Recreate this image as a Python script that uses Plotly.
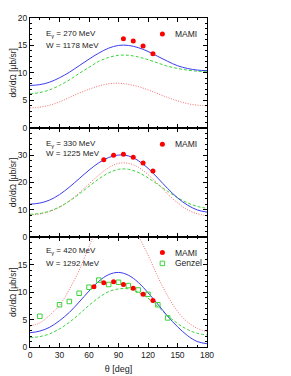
import plotly.graph_objects as go
from plotly.subplots import make_subplots

theta = [0, 10, 20, 30, 40, 50, 60, 70, 80, 90, 100, 110, 120, 130, 140, 150, 160, 170, 180]

# Panel 1: E_gamma = 270 MeV
blue_270 = [7.7, 7.85, 8.3, 9.1, 10.1, 11.3, 12.5, 13.6, 14.5, 15.0, 15.0, 14.6, 13.9, 13.0, 12.1, 11.3, 10.8, 10.5, 10.4]
green_270 = [6.2, 6.4, 6.9, 7.7, 8.7, 9.9, 11.0, 12.1, 12.8, 13.2, 13.2, 12.9, 12.4, 11.8, 11.2, 10.8, 10.5, 10.3, 10.2]
red_270 = [3.6, 3.75, 4.1, 4.7, 5.5, 6.3, 7.0, 7.6, 8.0, 8.1, 7.9, 7.5, 6.9, 6.2, 5.5, 4.9, 4.4, 4.1, 4.0]
mami_270_x = [95, 105, 115, 125]
mami_270_y = [16.2, 15.8, 14.9, 13.5]

# Panel 2: E_gamma = 330 MeV
blue_330 = [12.1, 12.5, 13.6, 15.6, 18.3, 21.4, 24.5, 27.2, 29.1, 30.0, 29.7, 28.0, 25.2, 21.6, 17.8, 14.4, 11.8, 10.0, 9.2]
green_330 = [8.4, 8.7, 9.6, 11.1, 13.2, 15.8, 18.6, 21.3, 23.5, 24.8, 24.8, 23.7, 21.7, 19.3, 16.8, 14.5, 12.6, 11.3, 10.6]
red_330 = [8.2, 8.5, 9.4, 11.0, 13.3, 16.2, 19.5, 22.7, 25.4, 27.0, 27.0, 25.6, 22.9, 19.5, 15.8, 12.6, 10.1, 8.6, 7.9]
mami_330_x = [75, 85, 95, 105, 115, 125]
mami_330_y = [28.3, 29.9, 30.3, 29.2, 27.1, 24.2]

# Panel 3: E_gamma = 420 MeV
blue_420 = [2.6, 2.9, 3.6, 4.8, 6.3, 8.2, 10.2, 12.0, 13.2, 13.6, 13.1, 11.8, 9.9, 7.8, 5.6, 3.7, 2.1, 1.0, 0.6]
green_420 = [1.7, 1.9, 2.4, 3.3, 4.5, 6.0, 7.6, 9.0, 10.1, 10.6, 10.6, 10.0, 8.9, 7.4, 5.7, 4.3, 3.2, 2.5, 2.2]
red_420 = [3.8, 4.4, 5.8, 7.6, 10.5, 14.0, 18.3, 22.5, 26.0, 27.5, 26.0, 20.5, 16.8, 12.8, 9.3, 6.5, 4.6, 3.4, 2.8]
mami_420_x = [65, 75, 85, 95, 105, 115, 125]
mami_420_y = [11.0, 11.7, 11.9, 11.4, 10.7, 9.6, 8.5]
genzel_x = [10, 30, 40, 50, 60, 70, 80, 90, 100, 110, 120, 130, 140]
genzel_y = [5.6, 7.7, 8.3, 9.8, 10.9, 12.2, 11.4, 11.8, 11.2, 10.4, 9.6, 7.7, 5.3]

labels = [("270", "1178"), ("330", "1225"), ("420", "1292")]
series_names = ["MAMI", "Genzel"]

BLUE = "#3b3bf0"
GREEN = "#3ad43a"
RED = "#f46a6a"
FONT = "Liberation Sans, Arial, sans-serif"

fig = make_subplots(rows=3, cols=1, shared_xaxes=True, vertical_spacing=0)

panels = [
    (blue_270, green_270, red_270, mami_270_x, mami_270_y),
    (blue_330, green_330, red_330, mami_330_x, mami_330_y),
    (blue_420, green_420, red_420, mami_420_x, mami_420_y),
]

legend_names = ["legend", "legend2", "legend3"]
for i, (b, g, r, mx, my) in enumerate(panels):
    row = i + 1
    fig.add_trace(go.Scatter(x=theta, y=r, mode="lines", line=dict(color=RED, width=1, dash="1px,1.5px", shape="spline"),
                             showlegend=False), row=row, col=1)
    fig.add_trace(go.Scatter(x=theta, y=g, mode="lines", line=dict(color=GREEN, width=1, dash="3px,2px", shape="spline"),
                             showlegend=False), row=row, col=1)
    fig.add_trace(go.Scatter(x=theta, y=b, mode="lines", line=dict(color=BLUE, width=1, shape="spline"),
                             showlegend=False), row=row, col=1)
    if row == 3:
        # legend key only; its label is drawn as text next to it
        fig.add_trace(go.Scatter(x=genzel_x, y=genzel_y, mode="markers", name=" ",
                                 marker=dict(symbol="square-open", size=4.5, color=GREEN, line=dict(width=1)),
                                 legend="legend4"), row=row, col=1)
    fig.add_trace(go.Scatter(x=mx, y=my, mode="markers", name=" ",
                             marker=dict(symbol="circle", size=5, color="#ff0000"),
                             legend=legend_names[i]), row=row, col=1)

# annotations for energies
ann_y = [(17.1, 15.0, "y"), (34.1, 30.6, "y2"), (17.5, 15.3, "y3")]
for (e, w), (ye, yw, yref) in zip(labels, ann_y):
    fig.add_annotation(x=14, y=ye, xref="x", yref=yref, text=f"E<sub>γ</sub> = {e} MeV", showarrow=False,
                       xanchor="left", yanchor="middle", font=dict(size=8, color="#222", family=FONT))
    fig.add_annotation(x=14, y=yw, xref="x", yref=yref, text=f"W = {w} MeV", showarrow=False,
                       xanchor="left", yanchor="middle", font=dict(size=8, color="#222", family=FONT))

axis_common = dict(showline=True, linecolor="black", linewidth=1, mirror="allticks", ticks="inside",
                   ticklen=4, tickcolor="black", showgrid=False, zeroline=False, automargin=False,
                   tickfont=dict(size=8.5, color="#222", family=FONT))

for row in (1, 2, 3):
    fig.update_xaxes(range=[0, 180], tick0=0, dtick=30,
                     minor=dict(ticks="inside", dtick=10, ticklen=2, tickcolor="black"),
                     **axis_common, row=row, col=1)

fig.update_xaxes(title=dict(text="θ [deg]", font=dict(size=9, color="#222", family=FONT), standoff=6), row=3, col=1)

ytitle = dict(text="dσ/dΩ [μb/sr]", font=dict(size=8.5, color="#222", family=FONT), standoff=5)
fig.update_yaxes(range=[0, 20], tickmode="array", tickvals=[0, 5, 10, 15, 20],
                 minor=dict(ticks="inside", tickmode="linear", tick0=0, dtick=1, ticklen=2, tickcolor="black"),
                 title=ytitle, **axis_common, row=1, col=1)
fig.update_yaxes(range=[0, 40], tickmode="array", tickvals=[0, 10, 20, 30],
                 minor=dict(ticks="inside", tickmode="linear", tick0=0, dtick=2, ticklen=2, tickcolor="black"),
                 title=ytitle, **axis_common, row=2, col=1)
fig.update_yaxes(range=[0, 20], tickmode="array", tickvals=[0, 5, 10, 15],
                 minor=dict(ticks="inside", tickmode="linear", tick0=0, dtick=1, ticklen=2, tickcolor="black"),
                 title=ytitle, **axis_common, row=3, col=1)

# legend keys (symbol centre ~20 px right of legend's left edge)
LX = 0.635
leg_y = [0.951, 0.616, 0.287, 0.254]
leg_common = dict(bgcolor="rgba(0,0,0,0)", font=dict(size=8.5, color="#222", family=FONT),
                  xanchor="left", yanchor="middle", itemwidth=30, borderwidth=0)
fig.update_layout(
    width=291, height=376,
    margin=dict(l=22, r=92, t=10, b=37, autoexpand=False),
    paper_bgcolor="white", plot_bgcolor="white",
    legend=dict(x=LX, y=leg_y[0], **leg_common),
    legend2=dict(x=LX, y=leg_y[1], **leg_common),
    legend3=dict(x=LX, y=leg_y[2], **leg_common),
    legend4=dict(x=LX, y=leg_y[3], **leg_common),
)

# legend labels
label_x = 0.81
for y, name in zip(leg_y, [series_names[0]] * 3 + [series_names[1]]):
    fig.add_annotation(x=label_x, y=y, xref="paper", yref="paper", text=name, showarrow=False,
                       xanchor="left", yanchor="middle", font=dict(size=8.5, color="#222", family=FONT))

fig.write_html("out.html")
